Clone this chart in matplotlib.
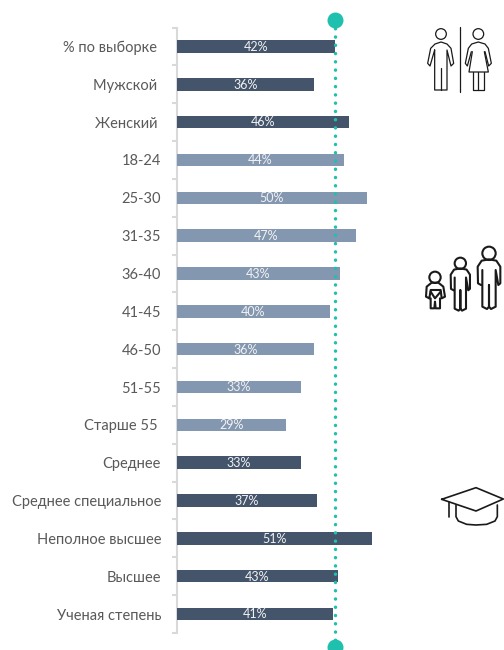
import matplotlib
matplotlib.use("Agg")
import matplotlib.pyplot as plt
from matplotlib.patches import Circle

plt.rcParams['font.family'] = ['Lato', 'Open Sans', 'DejaVu Sans']

# Data
categories = ['% по выборке ', 'Мужской ', 'Женский ', '18-24', '25-30', '31-35', '36-40',
              '41-45', '46-50', '51-55', 'Старше 55 ', 'Среднее', 'Среднее специальное',
              'Неполное высшее', 'Высшее', 'Ученая степень']
values = [42.0, 36.3, 45.6, 44.3, 50.4, 47.5, 43.2, 40.6, 36.3, 32.9, 28.9, 32.9, 37.1, 51.7, 42.7, 41.4]
value_labels = ['42%', '36%', '46%', '44%', '50%', '47%', '43%', '40%', '36%', '33%', '29%',
                '33%', '37%', '51%', '43%', '41%']
groups = ['d', 'd', 'd', 'l', 'l', 'l', 'l', 'l', 'l', 'l', 'l', 'd', 'd', 'd', 'd', 'd']
average = 42.0

DARK = '#44546a'
LIGHT = '#8497b0'
TEAL = '#1fc0ae'
W, H = 504, 650
PX = 3.77  # pixels per percent

fig = plt.figure(figsize=(W / 100, H / 100), dpi=100)

# Main axes, placed in pixels
left, top, bottom = 177, 27.5, 633
ax = fig.add_axes([left / W, 1 - bottom / H, (W - left) / W, (bottom - top) / H])
ax.set_xlim(0, (W - left) / PX)
ax.set_ylim(len(categories) - 0.5, -0.5)
ax.patch.set_alpha(0)

colors = [DARK if g == 'd' else LIGHT for g in groups]
pos = range(len(categories))
ax.barh(pos, values, height=0.33, color=colors, zorder=3)

for i, v in enumerate(values):
    ax.text(v / 2, i + 0.01, value_labels[i], ha='center', va='center', color='#f2f2f2',
            fontsize=9, zorder=4)

# Axis line and ticks between categories
for s in ['top', 'right', 'bottom']:
    ax.spines[s].set_visible(False)
ax.spines['left'].set_color('#d9d9d9')
ax.spines['left'].set_linewidth(1.5)
ax.spines['left'].set_zorder(1)
ax.set_xticks([])
ax.set_yticks(list(pos))
ax.set_yticklabels(categories, fontsize=10.5, color='#595959')
ax.tick_params(axis='y', which='major', length=0, pad=11.5)
ax.set_yticks([i - 0.5 for i in range(len(categories) + 1)], minor=True)
ax.tick_params(axis='y', which='minor', length=3.6, width=1.5, color='#d9d9d9')

# Average marker: dotted line with a round cap at each end
ends = [-0.7, 15.87]
ax.plot([average, average], ends, color=TEAL, lw=2.5, linestyle=(0, (0.01, 2.37)),
        dash_capstyle='round', clip_on=False, zorder=5)
ax.plot([average, average], ends, linestyle='none', marker='o', ms=11.5, color=TEAL,
        mec='none', clip_on=False, zorder=5)

# Overlay in pixel coordinates for the icons
ov = fig.add_axes([0, 0, 1, 1])
ov.set_xlim(0, W)
ov.set_ylim(H, 0)
ov.axis('off')
ov.patch.set_alpha(0)


def stroke(pts, ox, oy, s=1 / 3, lw=0.9):
    ov.plot([ox + p[0] * s for p in pts], [oy + p[1] * s for p in pts], color='#1a1a1a', lw=lw,
            solid_capstyle='round', solid_joinstyle='round')


def ring(x, y, r, ox, oy, s=1 / 3, lw=0.9):
    ov.add_patch(Circle((ox + x * s, oy + y * s), r * s, fill=False, ec='#1a1a1a', lw=lw))


# Man and woman
ox, oy = 400, 0
ring(123, 102, 16, ox, oy)
stroke([(104, 150), (90, 198), (83, 190), (92, 145), (105, 132), (123, 126), (141, 132), (153, 145),
        (161, 190), (153, 198), (141, 150), (141, 270), (104, 270), (104, 150)], ox, oy)
stroke([(123, 205), (123, 270)], ox, oy)
stroke([(179, 82), (179, 275)], ox, oy)
ring(235, 102, 16, ox, oy)
stroke([(214, 155), (202, 198), (196, 190), (205, 145), (215, 132), (235, 126), (255, 132), (265, 145),
        (274, 190), (266, 198), (255, 155)], ox, oy)
stroke([(217, 155), (207, 216), (265, 216), (253, 155)], ox, oy)
stroke([(218, 216), (218, 270), (252, 270), (252, 216)], ox, oy)
stroke([(235, 216), (235, 270)], ox, oy)


# Family: two adults of different size and a child
def adult(cx, head_y, k):
    oy2 = 235
    ring(cx, head_y, 20 * k, 400, oy2, lw=1.5)
    pts = [(-24, 95), (-33, 90), (-34, 40), (-22, 22), (0, 18), (22, 22), (34, 40), (34, 90),
           (28, 95), (20, 50), (20, 160), (6, 167), (0, 160), (0, 95), (0, 160), (-6, 167), (-20, 160),
           (-20, 50)]
    stroke([(cx + p[0] * k, head_y + p[1] * k) for p in pts], 400, oy2, lw=1.5)


adult(267, 55, 1.0)
adult(181, 85, 0.85)
ring(105, 127, 17, 400, 235, lw=1.5)
stroke([(88, 190), (78, 185), (80, 155), (95, 143), (115, 143), (130, 155), (135, 185), (125, 190),
        (122, 165), (92, 165), (88, 190)], 400, 235, lw=1.5)
stroke([(92, 170), (105, 190), (122, 170)], 400, 235, lw=1.5)
stroke([(92, 190), (92, 220), (103, 220), (105, 200), (107, 220), (120, 220), (120, 190)], 400, 235, lw=1.5)

# Graduation cap
ox, oy = 420, 475
stroke([(65, 73), (168, 38), (250, 72), (168, 108), (65, 73)], ox, oy, lw=1.2)
stroke([(88, 80), (88, 125)], ox, oy, lw=1.2)
stroke([(108, 90), (108, 125), (115, 138), (140, 148), (168, 150), (200, 148), (225, 138), (232, 125),
        (232, 90)], ox, oy, lw=1.2)

plt.savefig('out.png', dpi=100)
